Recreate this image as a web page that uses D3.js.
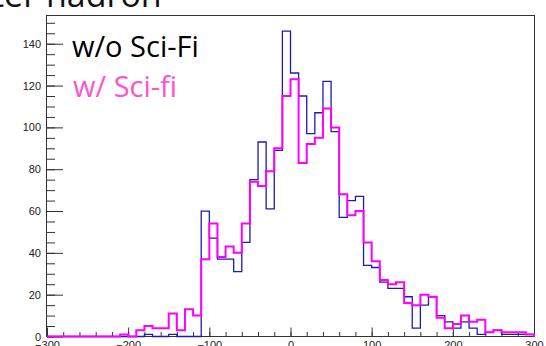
<!DOCTYPE html>
<html>
<head>
<meta charset="utf-8">
<script src="https://cdn.jsdelivr.net/npm/d3@7"></script>
<style>
  body { margin: 0; background: #fff; }
  svg { display: block; }
</style>
</head>
<body>
<div id="chart"></div>
<script>
// bins of 10 from -300 to 300
const binWidth = 10;
const binLow = d3.range(-300, 300, binWidth);

// counts, one per bin
const woSciFi = [
  0, 0, 0, 0, 0, 0, 0, 0, 0, 0,
  0, 0, 1, 0, 0, 1, 0, 0, 0, 60,
  47, 37, 37, 31, 45, 75, 93, 61, 89, 146,
  126, 115, 97, 107, 122, 98, 57, 65, 67, 34,
  33, 26, 23, 23, 19, 4, 15, 19, 10, 7,
  4, 7, 4, 1, 2, 3, 1, 1, 1, 1
];
const wSciFi = [
  0, 0, 0, 0, 0, 0, 0, 0, 0, 1,
  0, 3, 5, 4, 4, 11, 3, 13, 10, 37,
  54, 38, 43, 40, 54, 74, 72, 79, 90, 115,
  123, 83, 92, 95, 109, 100, 68, 58, 60, 45,
  36, 27, 25, 26, 16, 15, 20, 19, 9, 4,
  6, 10, 7, 8, 2, 3, 2, 2, 2, 1
];

const xTicks = [-300, -200, -100, 0, 100, 200, 300];
const yTicks = [0, 20, 40, 60, 80, 100, 120, 140];
const legendLabels = ["w/o Sci-Fi", "w/ Sci-fi"];

const W = 546, H = 346;

const svg = d3.select('#chart').append('svg')
  .attr('width', W)
  .attr('height', H);

// slide title, mostly cut off at the top
svg.append('text')
  .attr('x', -8)
  .attr('y', 7)
  .style('font-family', 'Open Sans')
  .style('font-size', '34px')
  .attr('fill', '#111')
  .text('ter hadron');

const x = d3.scaleLinear().domain([-300, 300]).range([47, 534]);
const y = d3.scaleLinear().domain([0, 153.5]).range([336.5, 15.5]);

const axisColor = '#333';
const tickFont = 'Liberation Sans';

// minor ticks
svg.append('g')
  .attr('transform', 'translate(47,0)')
  .call(d3.axisLeft(y).tickValues(d3.range(0, 155, 5)).tickSize(-8).tickFormat(''))
  .call(g => g.select('.domain').remove());
svg.append('g')
  .attr('transform', 'translate(0,336.5)')
  .call(d3.axisBottom(x).tickValues(d3.range(-300, 301, 20)).tickSize(-4.5).tickFormat(''))
  .call(g => g.select('.domain').remove());

// major ticks + labels
svg.append('g')
  .attr('transform', 'translate(47,0)')
  .call(d3.axisLeft(y).tickValues(yTicks).tickSize(-16).tickPadding(6).tickFormat(d3.format('d')))
  .call(g => g.select('.domain').remove());
svg.append('g')
  .attr('transform', 'translate(0,336.5)')
  .call(d3.axisBottom(x).tickValues(xTicks).tickSize(-9).tickPadding(5).tickFormat(d3.format('d')))
  .call(g => g.select('.domain').remove());

svg.selectAll('.tick line').attr('stroke', axisColor);
svg.selectAll('.tick text')
  .attr('fill', '#222')
  .style('font-family', tickFont)
  .style('font-size', '11px');

// frame
svg.append('rect')
  .attr('x', 46.5)
  .attr('y', 15.5)
  .attr('width', 534.5 - 46.5)
  .attr('height', 336.5 - 15.5)
  .attr('fill', 'none')
  .attr('stroke', axisColor)
  .attr('stroke-width', 1);

function stepPoints(vals) {
  const pts = [[-300, 0]];
  vals.forEach((v, i) => {
    pts.push([binLow[i], v]);
    pts.push([binLow[i] + binWidth, v]);
  });
  pts.push([300, 0]);
  return pts;
}

const line = d3.line()
  .x(d => x(d[0]))
  .y(d => y(d[1]));

svg.append('path')
  .datum(stepPoints(woSciFi))
  .attr('d', line)
  .attr('fill', 'none')
  .attr('stroke', '#1c1cb4')
  .attr('stroke-width', 1.3);

svg.append('path')
  .datum(stepPoints(wSciFi))
  .attr('d', line)
  .attr('fill', 'none')
  .attr('stroke', '#ff00ff')
  .attr('stroke-width', 2);

// legend text
svg.append('text')
  .attr('x', 72)
  .attr('y', 57)
  .style('font-family', 'Open Sans')
  .style('font-size', '29px')
  .attr('fill', '#000')
  .text(legendLabels[0]);
svg.append('text')
  .attr('x', 73)
  .attr('y', 97)
  .style('font-family', 'Open Sans')
  .style('font-size', '29px')
  .attr('fill', '#ff55c8')
  .text(legendLabels[1]);
</script>
</body>
</html>
